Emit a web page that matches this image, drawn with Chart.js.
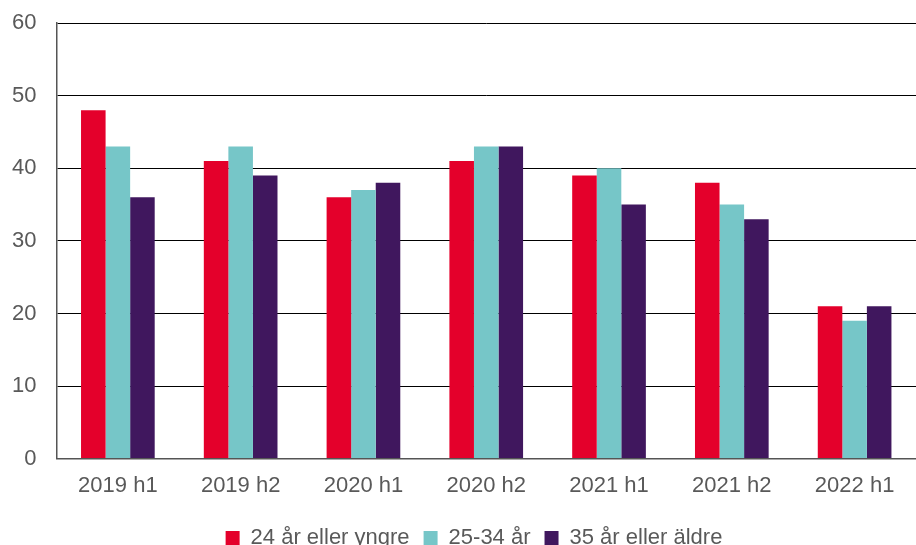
<!DOCTYPE html>
<html>
<head>
<meta charset="utf-8">
<script src="https://cdn.jsdelivr.net/npm/chart.js@4/dist/chart.umd.min.js"></script>
<style>
  html, body { margin: 0; padding: 0; background: #fff; overflow: hidden; }
  #wrap { width: 916px; height: 555px; margin-top: -10px; }
</style>
</head>
<body>
<div id="wrap"><canvas id="bar-chart"></canvas></div>
<script>
const periods = ["2019 h1", "2019 h2", "2020 h1", "2020 h2", "2021 h1", "2021 h2", "2022 h1"];
const young = [48, 41, 36, 41, 39, 38, 21];
const mid = [43, 43, 37, 43, 40, 35, 19];
const old = [36, 39, 38, 43, 35, 33, 21];
const seriesNames = ["24 år eller yngre", "25-34 år", "35 år eller äldre"];

const txt = { family: "Liberation Sans, Arial", size: 22 };

// legend in the original sits centred under the plot area, not the canvas
const shiftLegend = {
  id: 'shiftLegend',
  afterLayout(chart) {
    chart.legend.left += 20;
    chart.legend.right += 20;
  }
};

new Chart(document.getElementById("bar-chart"), {
  type: 'bar',
  data: {
    labels: periods,
    datasets: [
      { label: seriesNames[0], data: young, backgroundColor: "#e4002b" },
      { label: seriesNames[1], data: mid, backgroundColor: "#76c6c8" },
      { label: seriesNames[2], data: old, backgroundColor: "#40175e" }
    ]
  },
  plugins: [shiftLegend],
  options: {
    responsive: true,
    maintainAspectRatio: false,
    animation: false,
    datasets: { bar: { categoryPercentage: 0.6, barPercentage: 1 } },
    layout: { padding: { top: 0, right: 0, left: -8, bottom: -14 } },
    plugins: {
      legend: {
        position: 'bottom',
        labels: {
          color: "#595959",
          font: txt,
          boxWidth: 14,
          boxHeight: 14,
          padding: 14
        }
      },
      tooltip: { enabled: false }
    },
    scales: {
      x: {
        grid: { display: false, drawTicks: false },
        border: { color: "#555", width: 1.5 },
        ticks: { color: "#595959", font: txt, padding: 14 }
      },
      y: {
        min: 0, max: 60,
        grid: { color: "#000", lineWidth: 1, drawTicks: false },
        border: { color: "#555", width: 1.5 },
        ticks: { stepSize: 10, color: "#595959", font: txt, padding: 20 }
      }
    }
  }
});
</script>
</body>
</html>
